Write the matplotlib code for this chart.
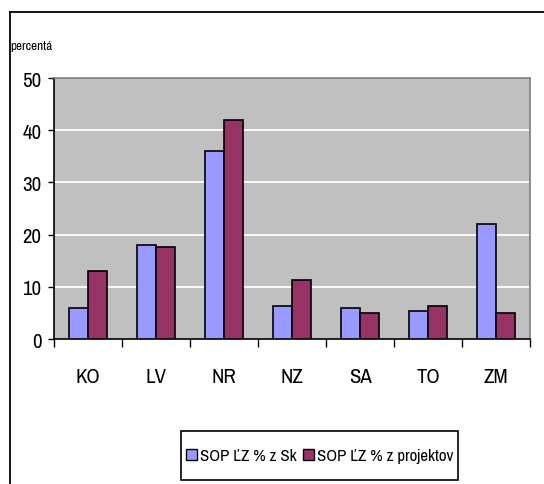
import matplotlib
matplotlib.use("Agg")
import matplotlib.pyplot as plt
import numpy as np
from matplotlib.lines import Line2D
from matplotlib.patches import Patch, Rectangle

plt.rcParams['font.family'] = ['Archivo Narrow', 'Roboto Condensed', 'Liberation Sans', 'DejaVu Sans']

categories = ["KO", "LV", "NR", "NZ", "SA", "TO", "ZM"]
series_names = ["SOP ĽZ % z Sk", "SOP ĽZ % z projektov"]
values_sk = [5.9, 18.0, 36.1, 6.3, 5.9, 5.4, 22.1]
values_proj = [13.0, 17.6, 41.9, 11.3, 4.9, 6.3, 4.9]
yticks = [0, 10, 20, 30, 40, 50]
colors = ["#9999FF", "#993366"]

fig = plt.figure(figsize=(5.44, 4.85), dpi=100)
W, H = 544, 485
ax = fig.add_axes([54 / W, (H - 340) / H, (530 - 54) / W, (340 - 79) / H])
ax.set_facecolor("#C0C0C0")

x = np.arange(len(categories))
bw = 0.285
ax.bar(x - bw / 2, values_sk, bw, color=colors[0], edgecolor="black", linewidth=1.2, zorder=3)
ax.bar(x + bw / 2, values_proj, bw, color=colors[1], edgecolor="black", linewidth=1.2, zorder=3)

ax.set_xlim(-0.5, len(categories) - 0.5)
ax.set_ylim(0, 50)
ax.set_yticks(yticks)
ax.set_yticklabels([str(v) for v in yticks], fontsize=15)
ax.tick_params(axis='y', length=4, width=1, pad=5, direction='out')

ax.set_xticks(np.arange(-0.5, len(categories), 1.0))
ax.set_xticklabels([])
ax.tick_params(axis='x', which='major', length=6, width=1, direction='out')
ax.set_xticks(x, minor=True)
ax.set_xticklabels(categories, minor=True, fontsize=15)
ax.tick_params(axis='x', which='minor', length=0, pad=20)

for v in yticks[1:-1]:
    ax.axhline(v, color="white", linewidth=1.3, zorder=1)

ax.spines['left'].set_color('black')
ax.spines['bottom'].set_color('black')
ax.spines['top'].set_color('#808080')
ax.spines['right'].set_color('#808080')
for s in ax.spines.values():
    s.set_linewidth(1.2)

fig.text(10 / W, (H - 47) / H, "percentá", fontsize=9.5, va='center', ha='left')

# outer frame (top and left edges visible)
fig.add_artist(Line2D([10 / W, 1.0], [(H - 13) / H, (H - 13) / H], color='black', linewidth=1.3, transform=fig.transFigure))
fig.add_artist(Line2D([10 / W, 10 / W], [0, (H - 13) / H], color='black', linewidth=1.3, transform=fig.transFigure))

# legend box
fig.add_artist(Rectangle((181 / W, (H - 481) / H), (458 - 181) / W, (481 - 432) / H,
                         transform=fig.transFigure, facecolor='white', edgecolor='black', linewidth=1.2))
handles = [Patch(facecolor=colors[0], edgecolor='black', linewidth=1.0),
           Patch(facecolor=colors[1], edgecolor='black', linewidth=1.0)]
leg = fig.legend(handles, series_names, loc='center', bbox_to_anchor=(320 / W, (H - 457) / H),
                 ncol=2, fontsize=12.2, frameon=False, handlelength=0.6, handleheight=0.6,
                 handletextpad=0.2, columnspacing=0.4, borderpad=0.3, borderaxespad=0)

fig.savefig("out.png", dpi=100)
